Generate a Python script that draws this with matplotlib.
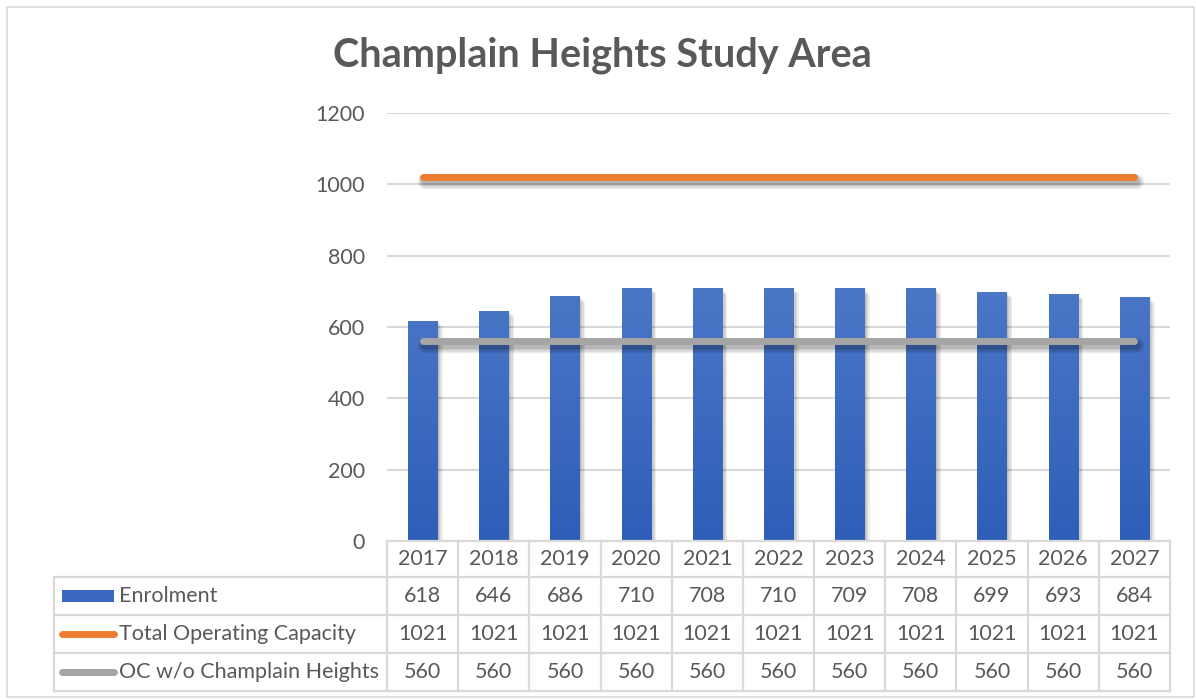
import numpy as np
import matplotlib.pyplot as plt
from matplotlib import patheffects as pe
from matplotlib.patches import Rectangle
from matplotlib.lines import Line2D
from matplotlib.colors import LinearSegmentedColormap

plt.rcParams['font.family'] = ['Lato', 'DejaVu Sans']

years = ['2017', '2018', '2019', '2020', '2021', '2022', '2023', '2024', '2025', '2026', '2027']
enrolment = [618, 646, 686, 710, 708, 710, 709, 708, 699, 693, 684]
total_capacity = [1021] * 11
oc_without_ch = [560] * 11
series_names = ['Enrolment', 'Total Operating Capacity', 'OC w/o Champlain Heights']

W, H = 1196, 700
fig = plt.figure(figsize=(W / 100, H / 100), dpi=100)
txt = '#595959'
grid_c = '#D9D9D9'
blue_top, blue_bot = '#5F88D1', '#2E5EB8'
orange, grey = '#ED7D31', '#A5A5A5'


def fx(x):
    return x / W


def fy(y):
    return 1 - y / H


# outer chart frame
fig.add_artist(Rectangle((fx(7), fy(697)), fx(1187), 690 / H, transform=fig.transFigure,
                         fill=False, edgecolor=grid_c, lw=1.2))

# plot area
left, right, top, bottom = 387, 1170, 113, 541
ax = fig.add_axes([fx(left), fy(bottom), fx(right - left), (bottom - top) / H])
x = np.arange(len(years))
ax.set_yticks(range(0, 1201, 200))
ax.tick_params(axis='y', length=0, pad=16, labelsize=15.5, labelcolor=txt)
ax.set_xticks([])
for s in ax.spines.values():
    s.set_visible(False)
ax.grid(axis='y', color=grid_c, lw=1.5)
ax.set_axisbelow(True)

# soft drop shadows built from a few faint offset copies
bar_fx = [pe.SimplePatchShadow(offset=(o, -o), alpha=0.07, shadow_rgbFace='k') for o in (1, 2, 3, 4)]
bar_fx.append(pe.Normal())
line_fx = [pe.SimpleLineShadow(offset=(1.5, -3), shadow_color='k', alpha=0.08, linewidth=w)
           for w in (5, 7, 9, 11)]
line_fx.append(pe.Normal())

# bars with a vertical gradient
cmap = LinearSegmentedColormap.from_list('bluegrad', [blue_bot, blue_top])
bars = ax.bar(x, enrolment, width=0.41, color=blue_bot, zorder=2, path_effects=bar_fx)
grad = np.linspace(0, 1, 256).reshape(-1, 1)
for b in bars:
    bx, bw = b.get_x(), b.get_width()
    im = ax.imshow(grad, cmap=cmap, origin='lower', aspect='auto',
                   extent=(bx, bx + bw, 0, 1200), zorder=2.5, vmin=0, vmax=1)
    im.set_clip_path(b)
ax.set_xlim(-0.5, len(years) - 0.5)
ax.set_ylim(0, 1200)

ax.plot(x, total_capacity, color=orange, lw=5, solid_capstyle='round', zorder=3, path_effects=line_fx)
ax.plot(x, oc_without_ch, color=grey, lw=5, solid_capstyle='round', zorder=3, path_effects=line_fx)

fig.text(fx(602), fy(55), 'Champlain Heights Study Area', ha='center', va='center',
         fontsize=28.5, fontweight='bold', color=txt)

# data table
col_w = (right - left) / len(years)
row_y = [541, 577, 615, 653, 691]
tab_left = 54
lw_t = 1.6
fig.add_artist(Line2D([fx(left), fx(right)], [fy(row_y[0])] * 2, color=grid_c, lw=lw_t))
for yy in row_y[1:]:
    fig.add_artist(Line2D([fx(tab_left), fx(right)], [fy(yy)] * 2, color=grid_c, lw=lw_t))
fig.add_artist(Line2D([fx(tab_left)] * 2, [fy(row_y[1]), fy(row_y[-1])], color=grid_c, lw=lw_t))
for k in range(len(years) + 1):
    xx = left + k * col_w
    fig.add_artist(Line2D([fx(xx)] * 2, [fy(row_y[0]), fy(row_y[-1])], color=grid_c, lw=lw_t))

rows = [years, enrolment, total_capacity, oc_without_ch]
for r, vals in enumerate(rows):
    yc = (row_y[r] + row_y[r + 1]) / 2
    for k, v in enumerate(vals):
        fig.text(fx(left + (k + 0.5) * col_w), fy(yc), str(v), ha='center', va='center',
                 fontsize=15.5, color=txt)

for r, name in enumerate(series_names):
    yc = (row_y[r + 1] + row_y[r + 2]) / 2
    fig.text(fx(119), fy(yc), name, ha='left', va='center', fontsize=15.5, color=txt)

# legend keys
yc = (row_y[1] + row_y[2]) / 2
fig.add_artist(Rectangle((fx(62), fy(yc + 6)), fx(52), 12 / H,
                         transform=fig.transFigure, color='#3A68C0', lw=0))
for r, c in [(1, orange), (2, grey)]:
    yc = (row_y[r + 1] + row_y[r + 2]) / 2
    fig.add_artist(Line2D([fx(62), fx(114)], [fy(yc)] * 2, color=c, lw=5, solid_capstyle='round'))

fig.savefig('out.png', dpi=100)
